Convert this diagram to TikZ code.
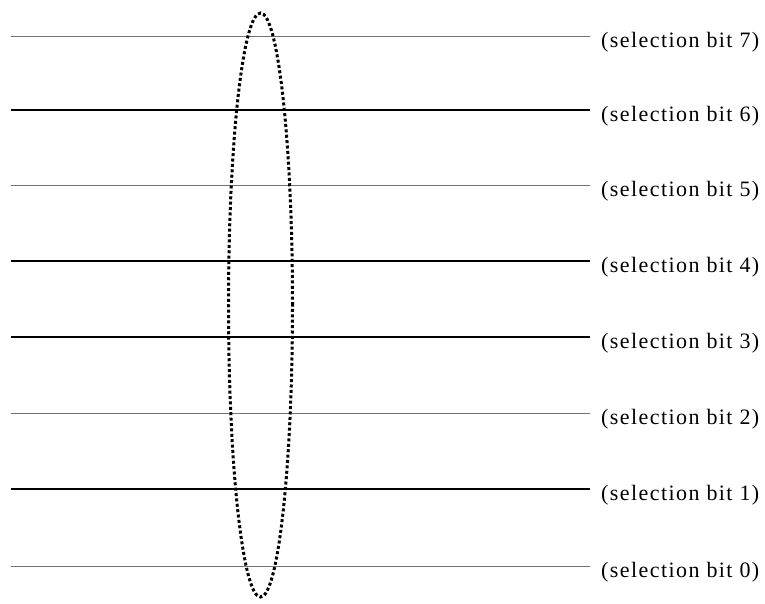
\documentclass[tikz,border=0pt]{standalone}
\usepackage{fontspec}
\usetikzlibrary{shapes.geometric}
\setmainfont{Liberation Serif}
\begin{document}
\begin{tikzpicture}[x=1pt,y=-1pt,
  thinline/.style={line width=0.9pt,draw=black!55},
  thickline/.style={line width=1.3pt,draw=black},
  lbl/.style={anchor=west,inner sep=0pt,font=\fontsize{22}{24}\selectfont\addfontfeatures{LetterSpace=6.5}},
  sel/.style={draw=black,line width=3pt,dash pattern=on 3pt off 2.4pt}]
\useasboundingbox (0,0) rectangle (765,604);
\foreach \i/\y/\s in {7/36/thinline,6/110/thickline,5/185/thinline,4/261/thickline,3/337/thickline,2/413/thinline,1/489/thickline,0/566/thinline}{
  \coordinate (l\i) at (11,\y);
  \coordinate (r\i) at (590,\y);
  \draw[\s] (l\i) -- (r\i);
  \node[lbl] (t\i) at (601,\y+6) {(selection bit \i)};
}
\node[sel,ellipse,inner sep=0pt,minimum width=64pt,minimum height=584pt] (e) at (260.5,305) {};
\end{tikzpicture}
\end{document}
